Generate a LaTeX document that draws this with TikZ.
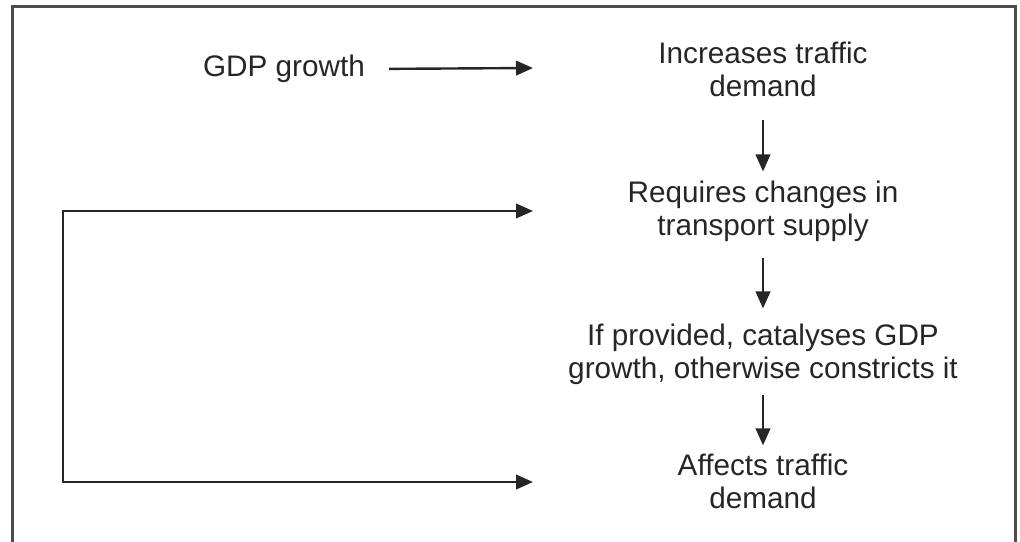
\documentclass[tikz,border=0pt]{standalone}
\usepackage{fontspec}
\setmainfont{Liberation Sans}
\usetikzlibrary{arrows.meta}
\begin{document}
\begin{tikzpicture}[x=1pt,y=-1pt,
  txt/.style={inner sep=0pt, align=center, font=\fontsize{29.7}{33}\selectfont, text=black!85},
  tip/.tip={Triangle[length=17pt,width=14.5pt]},
  arr/.style={line width=2.4pt, draw=black!85, -tip},
  frame/.style={line width=3pt, draw=black!70}]
\useasboundingbox (0,0) rectangle (1020,541);
\draw[frame] (12.5,545) -- (12.5,6.5) -- (1015.5,6.5) -- (1015.5,545);
\node[txt] (g) at (284,69) {GDP growth};
\node[txt] (n1) at (763,69) {Increases traffic\\demand};
\node[txt] (n2) at (763,211) {Requires changes in\\transport supply};
\node[txt] (n3) at (763,354) {If provided, catalyses GDP\\growth, otherwise constricts it};
\node[txt] (n4) at (763,481) {Affects traffic\\demand};
\coordinate (a1) at (533,68);
\coordinate (a2) at (533,211);
\coordinate (a4) at (533,482);
\coordinate (tl) at (63,211);
\coordinate (bl) at (63,482);
\draw[arr, shorten <=24pt] (g.east) -- (a1);
\draw[arr, shorten <=23pt, shorten >=9pt] (n1.south) -- (n2.north);
\draw[arr, shorten <=16pt, shorten >=15pt] (n2.south) -- (n3.north);
\draw[arr, shorten <=10.5pt, shorten >=8pt] (n3.south) -- (n4.north);
\draw[line width=2.4pt, draw=black!85, tip-tip] (a2) -- (tl) -- (bl) -- (a4);
\end{tikzpicture}
\end{document}
